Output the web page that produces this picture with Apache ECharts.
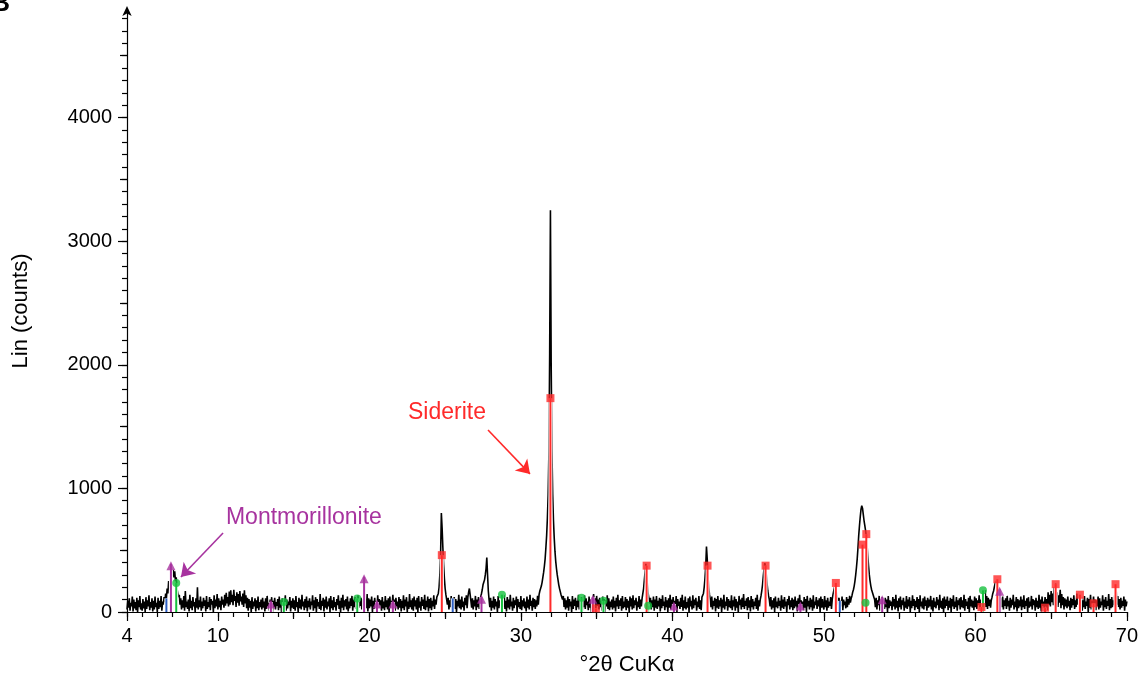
<!DOCTYPE html>
<html>
<head>
<meta charset="utf-8">
<script src="https://cdn.jsdelivr.net/npm/echarts@6/dist/echarts.min.js"></script>
<style>
  html, body { margin: 0; padding: 0; background: #ffffff; }
  #chart { width: 1141px; height: 687px; }
</style>
</head>
<body>
<div id="chart"></div>
<script>
// Scan settings of the diffractogram: start angle and step (°2θ)
const START_ANGLE = 4.0;
const STEP = 0.05;

// Measured intensity (counts), 20 steps per degree from 4.00 to 70.00 °2θ
const counts = [
  20,90,35,110,10,75,45,125,5,100,30,80,15,115,0,95,40,130,20,70,
  10,105,30,85,0,120,25,95,45,135,15,80,35,110,5,90,20,125,40,75,
  0,115,25,90,40,130,10,85,60,120,80,150,110,190,150,250,200,300,260,350,
  290,340,280,330,250,280,190,200,120,140,60,110,20,95,35,130,10,170,40,85,
  25,100,5,140,30,90,15,120,45,80,0,110,35,200,20,95,40,125,10,85,
  30,115,50,95,5,130,25,80,40,120,15,105,60,90,0,135,30,100,45,145,
  20,110,40,90,15,125,60,100,35,140,50,155,70,120,45,165,60,175,80,140,
  55,180,90,130,40,160,75,145,50,170,85,125,60,150,40,175,70,135,30,115,
  10,105,35,90,0,120,25,85,45,110,5,95,30,125,15,80,40,100,20,115,
  35,85,5,110,25,130,45,75,10,100,30,120,0,90,40,115,20,80,50,105,
  15,125,35,95,0,110,25,80,45,135,10,100,30,85,55,120,5,90,35,110,
  25,95,10,130,40,80,0,115,30,100,20,140,45,85,15,105,35,125,5,90,
  40,110,20,85,55,135,10,95,30,120,0,105,45,80,25,145,15,90,50,115,
  5,100,35,125,20,85,45,110,0,130,30,95,15,120,40,80,10,105,55,135,
  25,90,0,115,35,140,15,95,45,105,20,125,5,85,30,110,50,130,10,100,
  40,120,25,95,10,135,35,80,50,115,20,105,45,130,15,90,30,145,5,110,
  30,100,45,125,0,90,25,115,40,80,15,135,35,105,55,95,10,120,30,85,
  15,130,40,95,20,110,0,125,35,90,50,140,25,100,10,115,45,85,20,120,
  35,105,5,90,30,135,15,100,45,120,0,85,25,145,40,95,20,110,10,125,
  45,95,20,115,0,130,35,85,10,120,50,100,25,140,15,90,40,125,5,105,
  30,115,15,90,45,135,25,100,60,120,110,150,200,300,460,800,680,520,380,270,
  190,140,100,60,115,20,95,40,130,10,85,35,120,25,105,0,90,45,140,30,
  100,20,125,40,85,10,115,55,135,30,120,160,190,140,90,35,110,20,95,45,
  130,15,100,40,120,25,95,100,150,180,220,240,260,300,350,440,300,170,100,40,
  115,10,90,35,125,20,105,45,85,0,130,30,95,50,120,15,100,40,135,25,
  90,5,120,35,100,20,140,45,85,10,115,30,95,55,125,0,105,40,80,25,
  130,15,95,45,110,30,85,5,125,35,100,20,140,50,90,10,115,40,105,25,
  95,45,130,60,140,170,190,210,240,280,320,370,430,520,620,760,950,1300,2100,3250,
  2000,1300,950,740,600,490,410,350,300,260,220,190,165,140,120,100,130,40,110,20,
  95,35,125,10,105,45,85,0,130,25,100,50,115,15,90,40,140,20,105,30,
  120,5,95,40,135,25,110,55,85,15,125,35,100,0,90,45,145,60,110,30,
  130,50,100,20,115,40,90,10,125,35,105,0,95,45,135,25,110,15,85,40,
  100,20,125,35,90,5,115,45,140,25,95,50,110,10,130,30,85,40,120,15,
  105,35,90,0,125,45,110,20,135,30,95,55,115,10,85,40,130,25,100,45,
  110,150,190,260,330,390,310,220,150,110,70,115,20,95,40,125,10,100,35,130,
  25,90,45,115,5,105,30,135,50,85,15,120,40,95,0,110,35,140,20,100,
  45,120,15,90,35,130,0,105,50,85,25,115,40,140,10,95,30,125,20,80,
  35,110,0,125,45,90,20,135,30,100,55,115,10,85,40,130,25,95,15,120,
  110,150,200,270,370,530,430,290,200,140,100,40,125,20,90,50,115,5,105,35,
  130,25,95,45,115,0,100,35,140,20,85,50,120,10,105,40,90,30,135,15,
  95,45,125,10,105,35,85,0,130,55,100,20,115,40,145,25,90,50,110,15,
  120,35,95,5,130,40,105,20,85,50,115,25,140,10,95,45,100,130,170,220,
  290,350,395,370,300,230,170,130,100,45,120,20,95,35,110,0,125,40,85,30,
  115,50,90,10,135,35,100,25,120,45,85,0,105,55,130,20,95,40,115,15,
  100,30,125,45,90,5,110,40,140,20,95,50,85,15,120,35,105,0,130,45,
  90,20,115,40,100,10,135,30,85,55,120,25,95,45,110,0,125,35,105,50,
  20,130,40,95,10,115,35,85,50,120,25,100,140,170,200,210,180,140,110,60,
  115,30,90,45,125,15,100,55,85,30,120,40,105,60,130,75,110,130,160,180,
  210,250,300,360,430,520,620,700,770,830,860,840,790,740,700,660,610,540,450,370,
  300,250,210,180,160,140,120,100,40,115,20,95,55,130,10,105,35,120,45,90,
  25,115,40,100,0,130,30,95,50,85,15,120,45,105,20,140,35,90,5,110,
  40,125,20,95,55,115,10,85,35,130,25,100,45,120,0,90,30,135,50,105,
  15,90,40,120,25,105,0,135,45,85,30,110,20,125,50,95,10,115,35,100,
  45,130,20,95,5,115,40,85,30,120,55,100,15,140,35,90,25,110,0,125,
  30,100,50,125,15,90,35,115,0,105,45,135,25,85,40,120,10,95,55,110,
  20,120,40,95,30,140,10,105,50,85,25,115,0,130,45,100,35,90,15,125,
  40,110,25,95,55,135,20,100,45,120,30,150,60,175,40,130,25,115,50,100,
  35,95,120,150,170,200,230,250,255,230,200,170,150,120,100,40,125,20,95,50,
  110,25,130,45,90,10,115,35,100,55,140,20,85,40,120,5,105,30,95,45,
  125,15,100,40,135,25,90,50,110,0,120,35,85,45,130,20,105,55,95,10,
  115,40,90,25,140,35,100,5,125,50,85,30,120,45,105,15,160,60,140,45,
  170,80,150,55,200,70,230,95,160,40,135,75,180,30,145,55,120,20,110,45,
  100,30,125,45,90,15,115,35,105,55,135,25,95,40,150,60,120,20,100,45,
  120,10,95,40,130,25,85,50,115,0,105,35,140,20,90,45,125,30,100,15,
  95,45,125,20,110,35,85,55,135,10,100,40,120,25,90,50,145,15,105,30,
  120,40,95,55,140,70,165,60,130,40,105,20,115,35,90,50,125,10,100,45,
  85
];

// Reference line positions [°2θ, counts] for each identified phase
const sideriteLines = [
  [24.78, 460], [31.95, 1730], [34.95, 30], [38.3, 375], [42.32, 375],
  [46.15, 375], [50.79, 235], [52.55, 545], [52.8, 630], [60.4, 40],
  [61.45, 265], [64.6, 35], [65.3, 225], [66.9, 140], [67.8, 70], [69.25, 225]
];
const montmorilloniteLines = [
  [6.9, 390], [13.5, 80], [19.65, 285], [20.5, 80], [21.55, 80],
  [27.4, 120], [34.75, 120], [40.1, 65], [48.45, 65], [53.85, 115], [61.6, 185]
];
const greenPhaseLines = [
  [7.25, 235], [14.35, 80], [19.2, 110], [28.75, 140], [34.0, 115],
  [35.45, 90], [38.4, 50], [52.75, 75], [60.5, 175]
];
const bluePhaseLines = [
  [6.6, 110], [25.5, 110], [51.05, 90]
];

// Axis tick values
const xLabelValues = [4, 10, 20, 30, 40, 50, 60, 70];
const xMidTicks = [15, 25, 35, 45, 55, 65];
const yLabelValues = [0, 1000, 2000, 3000, 4000];
const yMidTicks = [500, 1500, 2500, 3500, 4500];
const yMinorTicks = [];
for (let v = 0; v <= 4800; v += 100) yMinorTicks.push(v);

const X_MIN = 4, X_MAX = 70, Y_MIN = 0, Y_MAX = 4870;

const RED = '#ff2a2a';
const PURPLE = '#a7339f';
const GREEN = '#16c13e';
const BLUE = '#2c5ec2';
const FONT = '"Liberation Sans", Arial, Helvetica, sans-serif';

const pattern = counts.map((c, i) => [Math.round((START_ANGLE + STEP * i) * 100) / 100, c]);

function sticks(name, data, color) {
  return {
    type: 'custom',
    name: name,
    data: data,
    z: 5,
    encode: { x: 0, y: 1 },
    renderItem: function (params, api) {
      const base = api.coord([api.value(0), 0]);
      const top = api.coord([api.value(0), api.value(1)]);
      const shape = { x1: base[0], y1: base[1], x2: top[0], y2: top[1] };
      return {
        type: 'group',
        children: [
          { type: 'line', shape: shape, style: { stroke: '#ffffff', lineWidth: 4 } },
          { type: 'line', shape: shape, style: { stroke: color, lineWidth: 2 } }
        ]
      };
    }
  };
}

function markers(name, data, color, symbol, size, extra) {
  return Object.assign({
    type: 'scatter',
    name: name,
    data: data,
    symbol: symbol,
    symbolSize: size,
    itemStyle: { color: color },
    z: 6
  }, extra || {});
}

function decoAxis(tickValues, len, extra) {
  return Object.assign({
    type: 'value',
    axisLine: { show: false },
    axisTick: { show: true, customValues: tickValues, length: len, lineStyle: { color: '#000', width: 1.2 } },
    axisLabel: { show: false },
    splitLine: { show: false }
  }, extra || {});
}

const chart = echarts.init(document.getElementById('chart'), null, { renderer: 'canvas' });

const plain = v => String(v);

chart.setOption({
  animation: false,
  backgroundColor: '#ffffff',
  grid: { left: 127, right: 14, top: 10, bottom: 75, containLabel: false },
  xAxis: [
    {
      type: 'value', min: X_MIN, max: X_MAX, interval: 1, position: 'bottom',
      axisLine: { lineStyle: { color: '#000', width: 1.2 } },
      axisTick: { show: true, customValues: xLabelValues, length: 9, lineStyle: { color: '#000', width: 1.2 } },
      axisLabel: { customValues: xLabelValues, formatter: plain, color: '#000', fontSize: 20, fontFamily: FONT, margin: 14 },
      splitLine: { show: false },
      name: '°2θ CuKα', nameLocation: 'middle', nameGap: 42,
      nameTextStyle: { color: '#000', fontSize: 22, fontFamily: FONT }
    },
    decoAxis(xMidTicks, 7, { min: X_MIN, max: X_MAX, position: 'bottom' }),
    decoAxis(null, 5, { min: X_MIN, max: X_MAX, interval: 1, position: 'bottom',
      axisTick: { show: true, length: 5, lineStyle: { color: '#000', width: 1.2 } } })
  ],
  yAxis: [
    {
      type: 'value', min: Y_MIN, max: Y_MAX, interval: 1000, position: 'left',
      axisLine: { show: true, symbol: ['none', 'arrow'], symbolSize: [7, 10], symbolOffset: [0, 4],
                  lineStyle: { color: '#000', width: 1.2 } },
      axisTick: { show: true, customValues: yLabelValues, length: 9, lineStyle: { color: '#000', width: 1.2 } },
      axisLabel: { customValues: yLabelValues, formatter: plain, color: '#000', fontSize: 20, fontFamily: FONT, margin: 15 },
      splitLine: { show: false },
      name: 'Lin (counts)', nameLocation: 'middle', nameGap: 95, nameRotate: 90,
      nameTextStyle: { color: '#000', fontSize: 22, fontFamily: FONT }
    },
    decoAxis(yMidTicks, 7, { min: Y_MIN, max: Y_MAX, position: 'left' }),
    decoAxis(yMinorTicks, 5, { min: Y_MIN, max: Y_MAX, position: 'left' })
  ],
  series: [
    {
      type: 'line',
      name: 'pattern',
      data: pattern,
      showSymbol: false,
      symbol: 'none',
      sampling: null,
      lineStyle: { color: '#000000', width: 1.6 },
      z: 2
    },
    sticks('Blue phase', bluePhaseLines, BLUE),
    sticks('Green phase', greenPhaseLines, GREEN),
    sticks('Montmorillonite', montmorilloniteLines, PURPLE),
    sticks('Siderite', sideriteLines, RED),
    markers('Green phase markers', greenPhaseLines, GREEN, 'circle', 8),
    markers('Montmorillonite markers', montmorilloniteLines, PURPLE, 'triangle', 9, {
      symbolOffset: [0, 2],
      markLine: {
        silent: true, animation: false,
        symbol: ['none', 'arrow'], symbolSize: 13,
        lineStyle: { color: PURPLE, width: 1.6, type: 'solid' },
        label: { show: false },
        data: [[{ coord: [10.34, 639] }, { coord: [7.56, 283] }]]
      }
    }),
    markers('Siderite markers', sideriteLines, RED, 'rect', 8, {
      markLine: {
        silent: true, animation: false,
        symbol: ['none', 'arrow'], symbolSize: 13,
        lineStyle: { color: RED, width: 1.6, type: 'solid' },
        label: { show: false },
        data: [[{ coord: [27.83, 1472] }, { coord: [30.6, 1117] }]]
      }
    })
  ]
});

// Phase name annotations anchored in data space
const annotations = [
  { text: 'Montmorillonite', at: [10.53, 760], color: PURPLE },
  { text: 'Siderite', at: [22.55, 1610], color: RED }
];
chart.setOption({
  graphic: annotations.map(a => {
    const p = chart.convertToPixel({ xAxisIndex: 0, yAxisIndex: 0 }, a.at);
    return {
      type: 'text', x: p[0], y: p[1], z: 20,
      style: { text: a.text, fill: a.color, font: '23px ' + FONT, align: 'left', verticalAlign: 'middle' }
    };
  }).concat([{
    type: 'text', x: 10, y: 4, z: 20,
    style: { text: 'B', fill: '#000', font: 'bold 26px ' + FONT, align: 'right', verticalAlign: 'middle' }
  }])
});
</script>
</body>
</html>
